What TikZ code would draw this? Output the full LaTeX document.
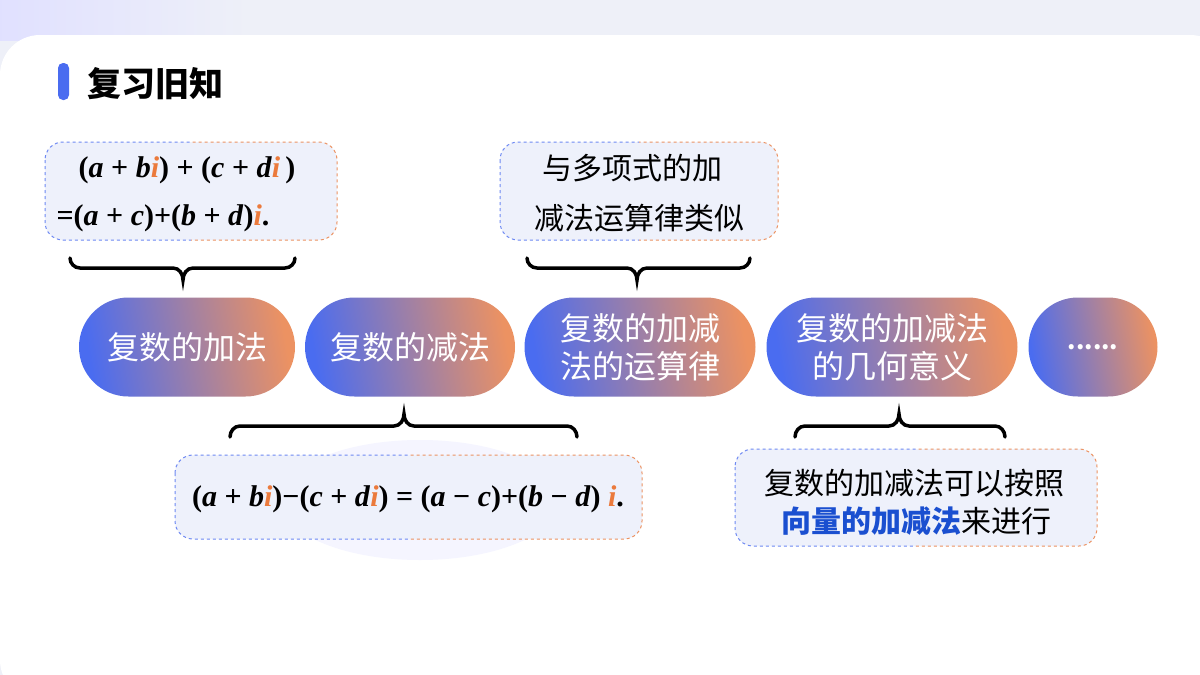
\documentclass[tikz,border=0pt]{standalone}
\usepackage{fontspec}
\setmainfont{Noto Sans CJK SC}
\newfontfamily\mathf{Liberation Serif}
\newfontfamily\cjk{Noto Sans CJK SC}
\usetikzlibrary{shapes.misc}
\definecolor{pblue}{HTML}{4A6CF0}
\definecolor{porange}{HTML}{EC9262}
\definecolor{iorange}{HTML}{EB7A3C}
\definecolor{qblue}{HTML}{1A4FD0}
\definecolor{boxfill}{HTML}{EEF1FB}
\definecolor{bgc}{HTML}{EEF0F8}
\tikzset{
  pill/.style={rounded rectangle, minimum height=99pt, inner xsep=2pt, text=white, font=\cjk\fontsize{32}{38}\selectfont, align=center, left color=pblue, right color=porange, shading angle=100},
  brace/.style={line width=3.5pt, line cap=round, black},
  mathtxt/.style={font=\mathf\bfseries\fontsize{30}{33}\selectfont},
  cjktxt/.style={font=\cjk\fontsize{30}{34}\selectfont},
}
\newcommand{\ii}{\textcolor{iorange}{\textit{i}}}
\newcommand{\gbox}[5]{% name, x1,y1,x2,y2
  \fill[boxfill,rounded corners=18pt] (#2,#3) rectangle (#4,#5);
  \begin{scope}
    \clip (#2-2,#3-2) rectangle ({(#2+#4)/2},#5+2);
    \draw[pblue!80,dashed,line width=1pt,rounded corners=18pt] (#2,#3) rectangle (#4,#5);
  \end{scope}
  \begin{scope}
    \clip ({(#2+#4)/2},#3-2) rectangle (#4+2,#5+2);
    \draw[porange,dashed,line width=1pt,rounded corners=18pt] (#2,#3) rectangle (#4,#5);
  \end{scope}
  \coordinate (#1) at ({(#2+#4)/2},{(#3+#5)/2});
}
\newcommand{\bracedown}[3]{%
  \draw[brace] (#1,258) to[out=-90,in=180] (#1+10,268) -- (#3-10,268) to[out=0,in=90] (#3,280) to[out=90,in=180] (#3+10,268) -- (#2-10,268) to[out=0,in=-90] (#2,258);}
\newcommand{\braceup}[3]{%
  \draw[brace] (#1,437) to[out=90,in=180] (#1+10,426) -- (#3-10,426) to[out=0,in=-90] (#3,414) to[out=-90,in=180] (#3+10,426) -- (#2-10,426) to[out=0,in=90] (#2,437);}
\begin{document}
\begin{tikzpicture}[x=1pt,y=-1pt]
\useasboundingbox (0,0) rectangle (1200,675);
\fill[bgc] (0,0) rectangle (1200,675);
\fill[left color=blue!12!white,right color=bgc] (0,0) rectangle (250,40);
\fill[white, rounded corners=40pt] (0,35) rectangle (1230,700);
\fill[blue!4] (420,500) ellipse (140 and 60);
% title
\fill[pblue, rounded corners=5pt] (58,63) rectangle (69,100);
\node[anchor=west, font=\cjk\bfseries\fontsize{34}{38}\selectfont] (title) at (84,84) {复习旧知};
% boxes
\gbox{b1}{45}{142}{337}{240}
\node[mathtxt] (b1a) at (187,170) {(\textit{a} + \textit{b}\ii) + (\textit{c} + \textit{d}\ii\,)};
\node[mathtxt] (b1b) at (163,218) {=(\textit{a} + \textit{c})+(\textit{b} + \textit{d})\ii.};
\gbox{b2}{500}{142}{778}{240}
\node[cjktxt] (b2a) at (632,168) {与多项式的加};
\node[cjktxt] (b2b) at (639,218) {减法运算律类似};
\gbox{b3}{175}{455}{642}{539}
\node[mathtxt] (b3t) at (408,499) {(\textit{a} + \textit{b}\ii)−(\textit{c} + \textit{d}\ii) = (\textit{a} − \textit{c})+(\textit{b} − \textit{d}) \ii.};
\gbox{b4}{735}{449}{1097}{546}
\node[cjktxt] (b4a) at (914,483) {复数的加减法可以按照};
\node[cjktxt] (b4b) at (916,521) {\textcolor{qblue}{\bfseries 向量的加减法}来进行};
% braces
\bracedown{70}{295}{183}
\bracedown{527}{750}{637}
\braceup{230}{577}{404}
\braceup{795}{1005}{899}
% pills
\node[pill, minimum width=220pt] (p1) at (187,347) {复数的加法};
\node[pill, minimum width=214pt] (p2) at (410,347) {复数的减法};
\node[pill, minimum width=235pt] (p3) at (640,347) {复数的加减\\法的运算律};
\node[pill, minimum width=255pt] (p4) at (892,347) {复数的加减法\\的几何意义};
\node[pill, minimum width=133pt, font=\cjk\bfseries\fontsize{24}{26}\selectfont] (p5) at (1093,347) {......};
\end{tikzpicture}
\end{document}
